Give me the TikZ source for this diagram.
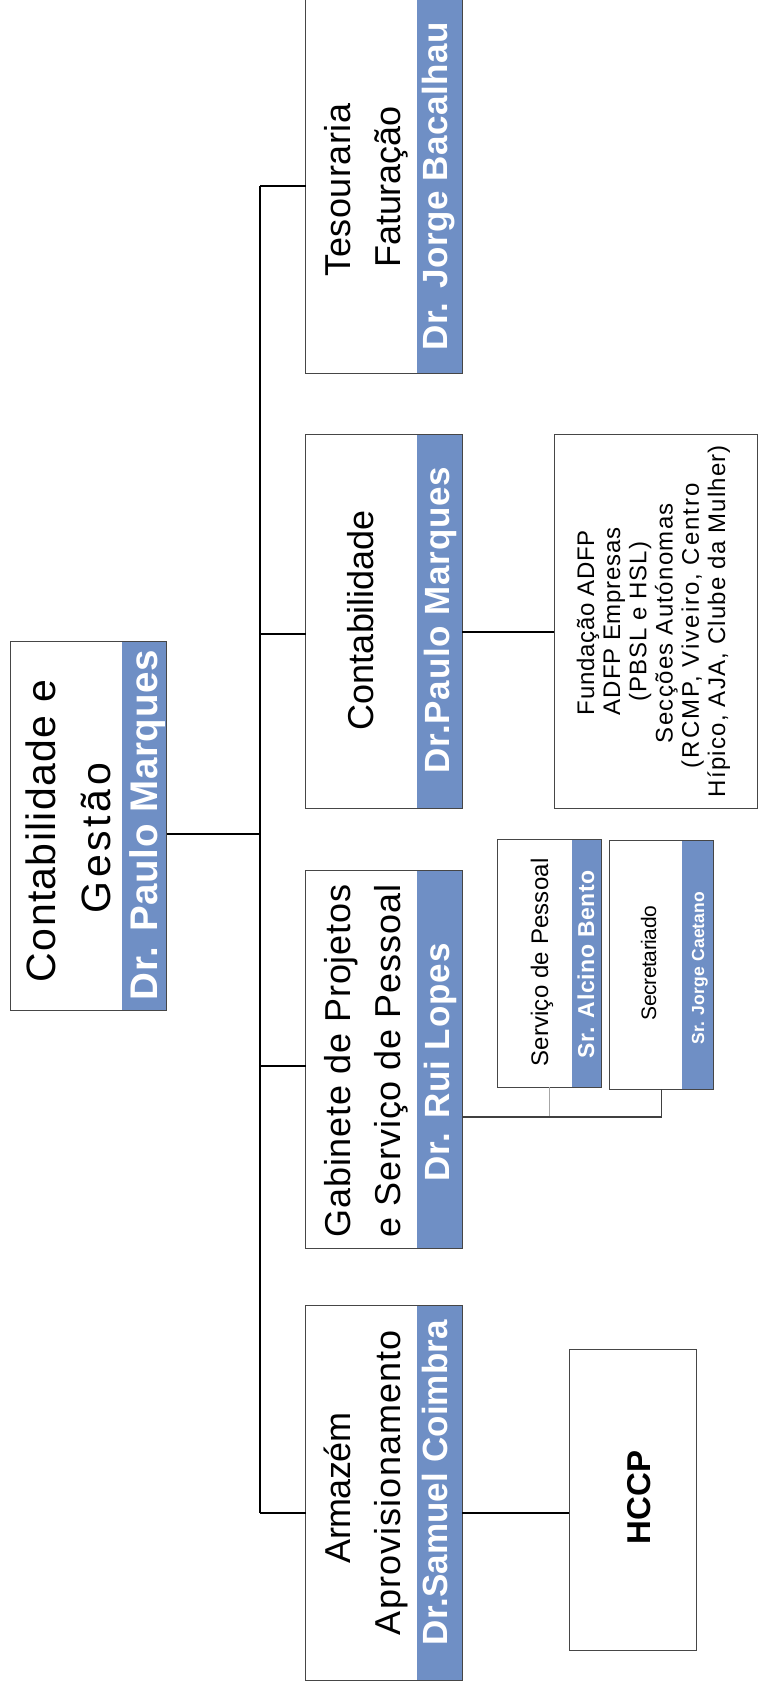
\documentclass[tikz,border=0pt]{standalone}
\usepackage{fontspec}
\setmainfont{Liberation Sans}
\usetikzlibrary{calc}
\definecolor{nameblue}{RGB}{111,143,197}
\definecolor{boxgray}{RGB}{70,70,70}
\newdimen\fitA \newdimen\fitB
\newcommand\fitline[3]{%
  \begingroup
  \setbox0=\hbox{#1#3}%
  \setbox2=\hbox{#1\addfontfeature{LetterSpace=10}#3}%
  \fitA=\wd0 \fitB=\wd2
  \pgfmathsetmacro\fitls{10*(#2-\the\fitA)/(\the\fitB-\the\fitA)}%
  \edef\fitnext{\noexpand\addfontfeature{LetterSpace=\fitls}}%
  \hbox{#1\fitnext #3}%
  \endgroup}
\newcommand\fTopR{\fontsize{41}{48}\selectfont}
\newcommand\fReg{\fontsize{36}{43}\selectfont}
\newcommand\fBigB{\fontsize{38.5}{46}\selectfont\bfseries}
\newcommand\fMidB{\fontsize{35}{42}\selectfont\bfseries}
\newcommand\fSmR{\fontsize{24}{29}\selectfont}
\newcommand\fSmB{\fontsize{23}{28}\selectfont\bfseries}
\newcommand\fSecR{\fontsize{21}{25}\selectfont}
\newcommand\fSecB{\fontsize{17.5}{21}\selectfont\bfseries}
\newcommand\fFund{\fontsize{24}{28}\selectfont}
\newcommand\fHCCP{\fontsize{33}{40}\selectfont\bfseries}
\tikzset{
  box/.style={draw=boxgray, line width=1pt, rectangle, fill=white, inner sep=0pt, outer sep=0pt},
  strip/.style={path picture={\fill[nameblue] ([xshift=-#1pt]path picture bounding box.north east) rectangle (path picture bounding box.south east);}},
  conn/.style={line width=1.8pt, black},
  subconn/.style={line width=1.1pt, black!75},
  stub/.style={line width=0.8pt, black!35},
  lbl/.style={rotate=90, anchor=base, inner sep=0pt, outer sep=0pt, text=black},
  wlbl/.style={lbl, text=white},
}
\begin{document}
\begin{tikzpicture}[x=1pt,y=-1pt]
\useasboundingbox (0,0) rectangle (758,1687);
\fill[white] (0,0) rectangle (758,1687);
% boxes
\node[box, strip=45, minimum width=156.5pt, minimum height=369pt] (A) at (88.25,825.5) {};
\node[box, strip=45.3, minimum width=156.5pt, minimum height=375pt] (T) at (383.75,185.7) {};
\node[box, strip=45.3, minimum width=156.5pt, minimum height=374pt] (C) at (383.75,621) {};
\node[box, strip=45.3, minimum width=156.5pt, minimum height=378pt] (G) at (383.75,1059) {};
\node[box, strip=45.3, minimum width=156.5pt, minimum height=375pt] (M) at (383.75,1492.5) {};
\node[box, minimum width=203pt, minimum height=374pt] (F) at (655.5,621) {};
\node[box, strip=30, minimum width=104.4pt, minimum height=248pt] (S) at (549.5,963.3) {};
\node[box, strip=31.6, minimum width=104.3pt, minimum height=248.6pt] (R) at (661.2,965) {};
\node[box, minimum width=126.7pt, minimum height=301.7pt] (H) at (632.7,1499.9) {};
% connectors
\coordinate (b1) at (260,185.7);
\coordinate (b5) at (260,1512.7);
\draw[conn] (b1) -- (b5);
\draw[conn] ([yshift=-8.5pt]A.east) -- ([yshift=-8.5pt]A.east -| b1);
\draw[conn] (b1) -- (T.west);
\draw[conn] ([yshift=-13pt]C.west -| b1) -- ([yshift=-13pt]C.west);
\draw[conn] ([yshift=-7pt]G.west -| b1) -- ([yshift=-7pt]G.west);
\draw[conn] (b5) -- (b5 -| M.west);
\draw[conn] ([yshift=-11.3pt]C.east) -- ([yshift=-11.3pt]C.east -| F.west);
\draw[conn] ([yshift=-20.2pt]M.east) -- ([yshift=-20.2pt]M.east -| H.west);
\coordinate (gj) at ([yshift=-58pt]G.east);
\draw[stub] (S.south) -- (S.south |- gj);
\draw[subconn] (gj) -| (R.south);
% labels: top box
\node[lbl] (A1) at (55,831) {\fitline{\fTopR}{302}{Contabilidade e}};
\node[lbl] (A2) at (110,838) {\fitline{\fTopR}{150}{Gestão}};
\node[wlbl] (A3) at (157,825) {\fitline{\fBigB}{350}{Dr. Paulo Marques}};
% Tesouraria
\node[lbl] (T1) at (350,190) {\fitline{\fReg}{173}{Tesouraria}};
\node[lbl] (T2) at (400,187) {\fitline{\fReg}{161}{Faturação}};
\node[wlbl] (T3) at (447,186) {\fitline{\fMidB}{328}{Dr. Jorge Bacalhau}};
% Contabilidade
\node[lbl] (C1) at (373,620) {\fitline{\fReg}{220}{Contabilidade}};
\node[wlbl] (C2) at (449,620) {\fitline{\fMidB}{306}{Dr.Paulo Marques}};
% Gabinete
\node[lbl] (G1) at (350,1061) {\fitline{\fReg}{353}{Gabinete de Projetos}};
\node[lbl] (G2) at (400,1061) {\fitline{\fReg}{353}{e Serviço de Pessoal}};
\node[wlbl] (G3) at (449,1062.5) {\fitline{\fMidB}{238}{Dr. Rui Lopes}};
% Armazem
\node[lbl] (M1) at (350,1488) {\fitline{\fReg}{150}{Armazém}};
\node[lbl] (M2) at (400,1482.5) {\fitline{\fReg}{305}{Aprovisionamento}};
\node[wlbl] (M3) at (447,1482.5) {\fitline{\fMidB}{325}{Dr.Samuel Coimbra}};
% Servico / Secretariado
\node[lbl] (S1) at (548,962.5) {\fitline{\fSmR}{208}{Serviço de Pessoal}};
\node[wlbl] (S2) at (594,964) {\fitline{\fSmB}{188}{Sr. Alcino Bento}};
\node[lbl] (R1) at (656,963) {\fitline{\fSecR}{114}{Secretariado}};
\node[wlbl] (R2) at (704,968) {\fitline{\fSecB}{153}{Sr. Jorge Caetano}};
% Fundacao
\node[lbl] (F1) at (594,622.5) {\fitline{\fFund}{185}{Fundação ADFP}};
\node[lbl] (F2) at (620.2,621) {\fitline{\fFund}{188}{ADFP Empresas}};
\node[lbl] (F3) at (646.4,621.7) {\fitline{\fFund}{160}{(PBSL e HSL)}};
\node[lbl] (F4) at (672.6,623) {\fitline{\fFund}{240}{Secções Autónomas}};
\node[lbl] (F5) at (698.8,625.5) {\fitline{\fFund}{285}{(RCMP, Viveiro, Centro}};
\node[lbl] (F6) at (725,621) {\fitline{\fFund}{352}{Hípico, AJA, Clube da Mulher)}};
% HCCP
\node[lbl] (H1) at (650.7,1497.5) {\fHCCP HCCP};
\end{tikzpicture}
\end{document}
